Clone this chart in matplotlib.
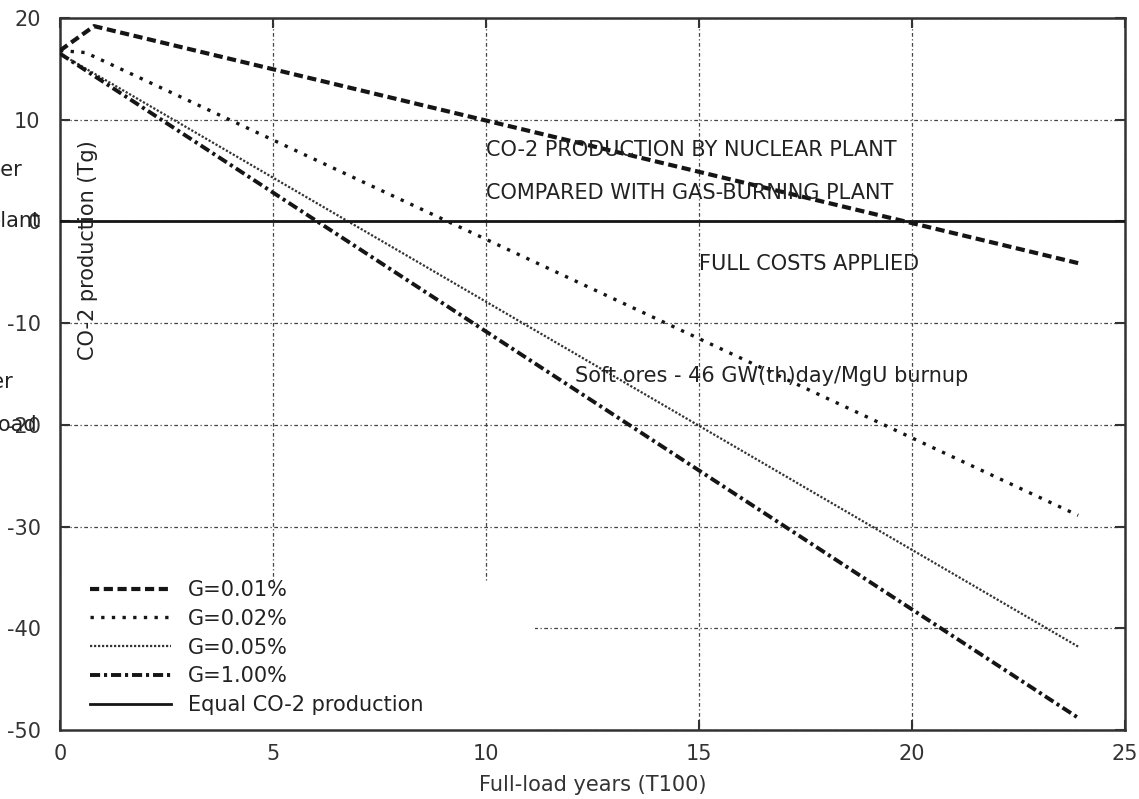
import matplotlib
matplotlib.use("Agg")
import matplotlib.pyplot as plt
from matplotlib.patches import Rectangle

plt.rcParams['font.family'] = ['DejaVu Sans']
plt.rcParams['axes.unicode_minus'] = False

# Data
x_g001 = [0.0, 0.8, 23.9]
y_g001 = [16.8, 19.2, -4.1]
x_g002 = [0.0, 0.6, 23.9]
y_g002 = [16.8, 16.6, -28.9]
x_g005 = [0.0, 23.9]
y_g005 = [16.5, -41.8]
x_g100 = [0.0, 23.9]
y_g100 = [16.5, -48.8]
x_equal = [0.0, 25.0]
y_equal = [0.0, 0.0]

labels = ["G=0.01%", "G=0.02%", "G=0.05%", "G=1.00%", "Equal CO-2 production"]
xticks = [0, 5, 10, 15, 20, 25]
yticks = [-50, -40, -30, -20, -10, 0, 10, 20]

fig = plt.figure(figsize=(11.39, 7.99), dpi=100)
ax = fig.add_axes([60/1139, 1-730/799, 1065/1139, 712/799])

fs = 15
ink = '#151515'

ax.plot(x_g001, y_g001, color=ink, lw=3.0, linestyle=(0, (2.2, 1.1)), label=labels[0], zorder=3)
ax.plot(x_g002, y_g002, color=ink, lw=2.4, linestyle=(0, (1, 2.2)), label=labels[1], zorder=3)
ax.plot(x_g005, y_g005, color='#333333', lw=1.6, linestyle=(0, (1, 0.8)), label=labels[2], zorder=3)
ax.plot(x_g100, y_g100, color=ink, lw=2.8, linestyle=(0, (2.6, 1.0, 0.8, 1.0)), label=labels[3], zorder=3)
ax.plot(x_equal, y_equal, color=ink, lw=2.0, linestyle='-', label=labels[4], zorder=3)

ax.set_xlim(0, 25)
ax.set_ylim(-50, 20)
ax.set_xticks(xticks)
ax.set_yticks(yticks)
ax.tick_params(direction='in', length=7, width=1.5, top=True, right=True,
               labelsize=fs, colors='#333333')
ax.tick_params(axis='y', pad=14)
ax.tick_params(axis='x', pad=10)
for s in ax.spines.values():
    s.set_linewidth(1.8)
    s.set_color('#333333')

ax.set_axisbelow(True)
ax.grid(True, color='#444444', lw=0.9, linestyle=(0, (1, 2, 3, 2)))

# white area behind the legend hides the grid
ax.add_patch(Rectangle((0, 0), (535-60)/1065, (730-582)/712, transform=ax.transAxes,
                       facecolor='white', edgecolor='none', zorder=1))

leg = ax.legend(loc='upper left', bbox_to_anchor=(30/1065, 1-(580-18)/712),
                frameon=False, fontsize=fs, handlelength=3.9, handletextpad=0.8,
                labelspacing=0.42, borderaxespad=0, borderpad=0)
for t in leg.get_texts():
    t.set_color('#222222')

ax.set_xlabel("Full-load years (T100)", fontsize=fs, color='#333333', labelpad=8)

ax.text(0.66, -2.8, "CO-2 production (Tg)", rotation=90, ha='center', va='center',
        fontsize=fs, color='#222222')
ax.text(10.0, 7.0, "CO-2 PRODUCTION BY NUCLEAR PLANT", ha='left', va='center',
        fontsize=fs, color='#222222')
ax.text(10.0, 2.8, "COMPARED WITH GAS-BURNING PLANT", ha='left', va='center',
        fontsize=fs, color='#222222')
ax.text(15.0, -4.2, "FULL COSTS APPLIED", ha='left', va='center',
        fontsize=fs, color='#222222')
ax.text(12.1, -15.2, "Soft ores - 46 GW(th)day/MgU burnup", ha='left', va='center',
        fontsize=fs, color='#222222')

# cut-off fragments at the left edge
for txt, xr, yp in [("per", 22, 170), ("plant", 40, 221), ("per", 13, 382), ("load", 37, 425)]:
    fig.text(xr/1139, 1-yp/799, txt, ha='right', va='center', fontsize=fs, color='#222222')

fig.savefig("out.png", dpi=100)
